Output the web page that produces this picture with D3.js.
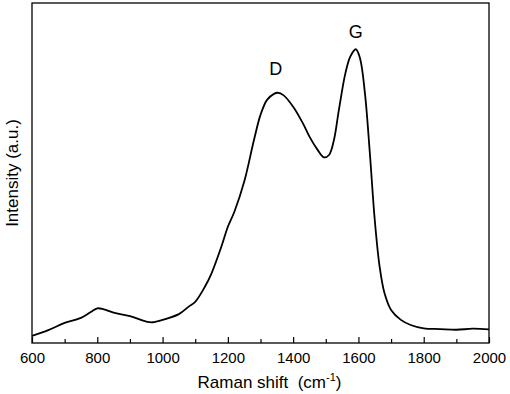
<!DOCTYPE html>
<html>
<head>
<meta charset="utf-8">
<script src="https://cdn.jsdelivr.net/npm/d3@7"></script>
<style>
	body { margin: 0; background: #fff; }
	svg { display: block; font-family: "Liberation Sans", Arial, sans-serif; }
	.axis path { display: none; }
	.axis line { stroke: #000; stroke-width: 1.2; }
	.axis text { font-size: 15px; fill: #000; }
</style>
</head>
<body>
<div class="container"></div>
<script>
const WIDTH = 510
	, HEIGHT = 394
	, LEFT = 32
	, RIGHT = 489
	, TOP = 3
	, BOTTOM = 343;

// Raman spectrum (intensity in arbitrary units)
var shift = [600, 650, 700, 750, 780, 800, 820, 850, 900, 950, 970, 1000, 1050, 1080, 1100,
	1130, 1150, 1180, 1200, 1220, 1250, 1280, 1300, 1320, 1340, 1353, 1370, 1400, 1430, 1450,
	1475, 1494, 1510, 1525, 1540, 1560, 1575, 1592, 1605, 1620, 1635, 1650, 1665, 1680, 1700,
	1730, 1760, 1800, 1850, 1900, 1950, 2000];
var intensity = [2.1, 3.8, 5.9, 7.4, 9.1, 10.2, 9.9, 8.9, 7.9, 6.3, 6.1, 6.8, 8.5, 10.7, 12.1,
	16.6, 20.5, 28.3, 34.2, 38.6, 47.4, 59.7, 67.1, 71.5, 73.2, 73.6, 72.9, 69.5, 64.6, 60.7,
	56.8, 54.6, 55.3, 59.7, 68.5, 79.3, 84.2, 86.4, 83.7, 73.4, 55.8, 36.2, 22.4, 14.6, 9.7,
	6.8, 5.3, 4.3, 4.1, 3.9, 4.2, 4.0];
var majorTicks = [600, 800, 1000, 1200, 1400, 1600, 1800, 2000];
var minorTicks = [700, 900, 1100, 1300, 1500, 1700, 1900];
var peakNames = ["D", "G"];
var peakPos = [1353, 1592];
var peakHeight = [73.6, 86.4];

var svg = d3.select('.container').append('svg')
	.attr('width', WIDTH)
	.attr('height', HEIGHT);

var x = d3.scaleLinear().domain([600, 2000]).range([LEFT, RIGHT]);
var y = d3.scaleLinear().domain([0, 100]).range([BOTTOM, TOP]);

// minor ticks first, then major ticks with labels
svg.append('g')
	.attr('class', 'axis')
	.attr('transform', 'translate(0,' + BOTTOM + ')')
	.call(d3.axisBottom(x).tickValues(minorTicks).tickSize(-4).tickFormat(''));
svg.append('g')
	.attr('class', 'axis')
	.attr('transform', 'translate(0,' + BOTTOM + ')')
	.call(d3.axisBottom(x).tickValues(majorTicks).tickSize(-6).tickPadding(9).tickFormat(d3.format('d')));

svg.append('rect')
	.attr('x', LEFT)
	.attr('y', TOP)
	.attr('width', RIGHT - LEFT)
	.attr('height', BOTTOM - TOP)
	.attr('fill', 'none')
	.attr('stroke', '#000')
	.attr('stroke-width', 1.3);

var line = d3.line()
	.x(function (d, i) { return x(shift[i]); })
	.y(function (d) { return y(d); })
	.curve(d3.curveCatmullRom.alpha(0.5));

svg.append('path')
	.attr('d', line(intensity))
	.attr('fill', 'none')
	.attr('stroke', '#000')
	.attr('stroke-width', 1.8);

svg.selectAll('.peak').data(peakNames).enter().append('text')
	.attr('class', 'peak')
	.attr('x', function (d, i) { return x(peakPos[i]) - (i == 0 ? 2 : 0); })
	.attr('y', function (d, i) { return y(peakHeight[i]) - (i == 0 ? 18 : 11); })
	.attr('text-anchor', 'middle')
	.attr('font-size', 18)
	.text(function (d) { return d; });

var xt = svg.append('text')
	.attr('x', (LEFT + RIGHT) / 2 + 9)
	.attr('y', 388)
	.attr('text-anchor', 'middle')
	.attr('font-size', 17)
	.attr('xml:space', 'preserve');
xt.append('tspan').text('Raman shift  (cm');
xt.append('tspan').attr('dy', -7).attr('font-size', 11).text('-1');
xt.append('tspan').attr('dy', 7).text(')');

svg.append('text')
	.attr('transform', 'translate(18,' + ((TOP + BOTTOM) / 2) + ') rotate(-90)')
	.attr('text-anchor', 'middle')
	.attr('font-size', 17)
	.text('Intensity (a.u.)');
</script>
</body>
</html>
